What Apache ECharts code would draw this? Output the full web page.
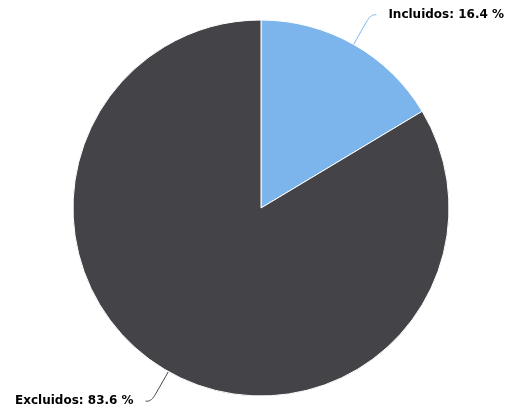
<!DOCTYPE html>
<html>
<head>
<meta charset="utf-8">
<script src="https://cdn.jsdelivr.net/npm/echarts@6/dist/echarts.min.js"></script>
<style>
  html, body { margin: 0; padding: 0; background: #ffffff; }
  #chart { width: 512px; height: 417px; }
</style>
</head>
<body>
<div id="chart"></div>
<script>
// Share of records included vs excluded
const categories = ['Incluidos', 'Excluidos'];
const values = [16.4, 83.6];
const colors = ['#7cb5ec', '#434348'];

const chart = echarts.init(document.getElementById('chart'), null, { renderer: 'canvas' });

chart.setOption({
  animation: false,
  backgroundColor: '#ffffff',
  series: [{
    type: 'pie',
    center: [261, 208],
    radius: [0, 188],
    startAngle: 90,
    clockwise: true,
    avoidLabelOverlap: false,
    data: categories.map((name, i) => ({
      name: name,
      value: values[i],
      itemStyle: { color: colors[i] }
    })),
    itemStyle: { borderColor: '#ffffff', borderWidth: 1 },
    label: {
      show: true,
      position: 'outside',
      formatter: p => p.name + ': ' + p.value.toFixed(1) + ' %',
      fontFamily: 'DejaVu Sans',
      fontWeight: 'bold',
      fontSize: 12,
      color: '#000000',
      distanceToLabelLine: 12
    },
    labelLine: {
      show: true,
      length: 34,
      length2: 6,
      smooth: 0.5,
      lineStyle: { width: 1 }
    },
    emphasis: { disabled: true }
  }]
});
</script>
</body>
</html>
